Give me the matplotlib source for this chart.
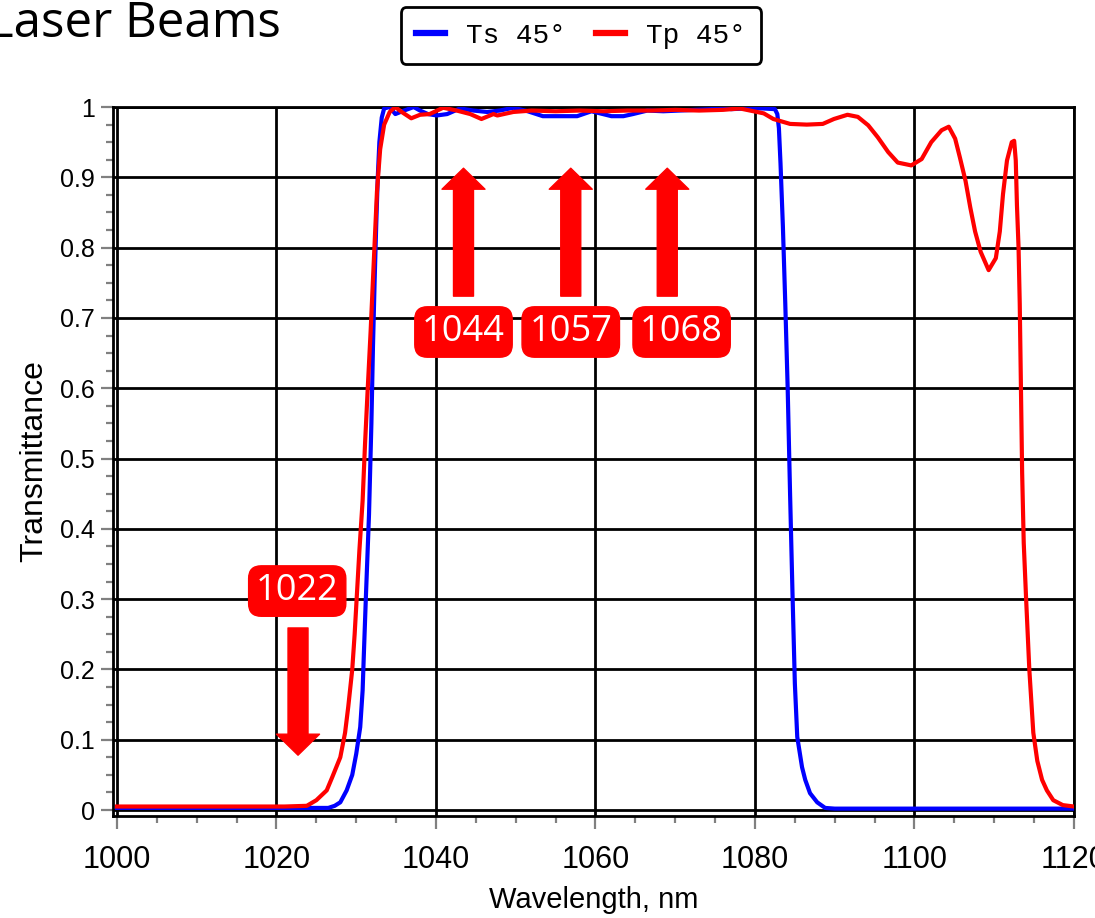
import matplotlib
matplotlib.use("Agg")
import matplotlib.pyplot as plt
from matplotlib.ticker import MultipleLocator

# Ts 45 deg (blue)
ts_wl = [1000, 1010, 1020, 1026.5, 1027.3, 1028.0, 1028.8, 1029.5, 1030.0, 1030.5,
         1030.8, 1030.95, 1031.2, 1031.6, 1031.9, 1032.1, 1032.3, 1032.5, 1032.7, 1032.9,
         1033.2, 1033.5, 1034.2, 1034.9, 1036.0, 1037.2, 1038.0, 1039.0, 1040.1, 1041.4,
         1043.0, 1044.7, 1046.4, 1048.0, 1049.7, 1051.5, 1053.4, 1055.5, 1057.7, 1059.5,
         1062.0, 1063.5, 1064.7, 1066.5, 1068.5, 1070.5, 1072.5, 1074.5, 1075.5, 1077.0,
         1079.0, 1081.0, 1082.5, 1082.8, 1083.0, 1083.2, 1083.5, 1083.8, 1084.1, 1084.4,
         1084.7, 1085.0, 1085.3, 1085.9, 1086.3, 1086.9, 1087.8, 1088.8, 1090, 1100,
         1110, 1120]
ts_t = [0.003, 0.003, 0.003, 0.003, 0.006, 0.011, 0.028, 0.05, 0.08, 0.118,
        0.17, 0.22, 0.30, 0.42, 0.55, 0.66, 0.75, 0.83, 0.90, 0.95,
        0.985, 0.998, 1.0, 0.99, 0.995, 1.0, 0.995, 0.99, 0.988, 0.99,
        0.998, 0.995, 0.993, 0.995, 0.999, 0.994, 0.987, 0.987, 0.987, 0.994,
        0.987, 0.987, 0.99, 0.995, 0.994, 0.995, 0.996, 0.997, 1.0, 0.997,
        0.998, 0.998, 0.997, 0.99, 0.97, 0.92, 0.83, 0.72, 0.60, 0.45,
        0.31, 0.18, 0.104, 0.061, 0.043, 0.024, 0.011, 0.003, 0.002, 0.002,
        0.002, 0.002]

# Tp 45 deg (red)
tp_wl = [1000, 1010, 1021, 1023.8, 1025.0, 1026.3, 1027.0, 1028.0, 1028.6, 1029.0,
         1029.5, 1029.8, 1030.1, 1030.4, 1030.8, 1031.1, 1031.4, 1031.8, 1032.2, 1032.6,
         1033.0, 1033.5, 1034.2, 1034.9, 1035.7, 1036.9, 1038.0, 1039.2, 1040.9, 1042.6,
         1044.3, 1045.7, 1047.2, 1047.7, 1049.7, 1052, 1055, 1058, 1061, 1064,
         1067, 1070, 1073, 1076, 1078.1, 1081.1, 1082.3, 1084.4, 1086.5, 1088.5,
         1089.9, 1091.6, 1092.9, 1094.2, 1095.4, 1096.7, 1097.9, 1099.6, 1100.9, 1102.1,
         1103.4, 1104.3, 1105.1, 1105.7, 1106.4, 1107.0, 1107.6, 1108.3, 1109.3, 1110.2,
         1110.7, 1111.1, 1111.6, 1112.2, 1112.5, 1112.7, 1112.85, 1113.05, 1113.2, 1113.35,
         1113.5, 1113.7, 1114.0, 1114.4, 1114.9, 1115.4, 1116.0, 1116.6, 1117.4, 1118.6,
         1120]
tp_t = [0.005, 0.005, 0.005, 0.006, 0.014, 0.028, 0.047, 0.075, 0.11, 0.147,
        0.2, 0.25, 0.31, 0.37, 0.44, 0.52, 0.59, 0.68, 0.78, 0.88,
        0.94, 0.975, 0.993, 1.0, 0.993, 0.984, 0.989, 0.99, 0.999, 0.995,
        0.99, 0.983, 0.99, 0.988, 0.993, 0.995, 0.994, 0.995, 0.994, 0.995,
        0.995, 0.996, 0.995, 0.996, 0.998, 0.991, 0.983, 0.976, 0.975, 0.976,
        0.983, 0.989, 0.986, 0.974, 0.957, 0.936, 0.921, 0.917, 0.926, 0.950,
        0.967, 0.972, 0.955, 0.928, 0.895, 0.857, 0.823, 0.794, 0.768, 0.785,
        0.823, 0.876, 0.924, 0.950, 0.952, 0.924, 0.86, 0.80, 0.72, 0.60,
        0.48, 0.38, 0.30, 0.20, 0.11, 0.07, 0.043, 0.028, 0.014, 0.007,
        0.005]

x_ticks = [1000, 1020, 1040, 1060, 1080, 1100, 1120]
y_ticks = [0, 0.1, 0.2, 0.3, 0.4, 0.5, 0.6, 0.7, 0.8, 0.9, 1]
y_tick_labels = ["0", "0.1", "0.2", "0.3", "0.4", "0.5", "0.6", "0.7", "0.8", "0.9", "1"]

# laser line markers
marker_labels = ["1022", "1044", "1057", "1068"]
arrow_x = [1022.7, 1043.45, 1056.9, 1069.0]
arrow_tail = [0.259, 0.731, 0.731, 0.731]
arrow_tip = [0.078, 0.913, 0.913, 0.913]
label_x = [1022.6, 1043.45, 1056.9, 1070.8]
label_y = [0.3115, 0.680, 0.680, 0.680]

assert len(ts_wl) == len(ts_t) and len(tp_wl) == len(tp_t)

fig = plt.figure(figsize=(10.95, 9.18), dpi=100)
ax = fig.add_axes([0.1032, 0.1111, 0.8776, 0.7723])

ax.plot(ts_wl, ts_t, color="#0000ff", lw=3, label="Ts 45°", zorder=3)
ax.plot(tp_wl, tp_t, color="#ff0000", lw=3, label="Tp 45°", zorder=4)

ax.set_xlim(999.5, 1120)
ax.set_ylim(-0.0085, 1.0)

ax.set_xticks(x_ticks)
ax.set_xticklabels([str(v) for v in x_ticks], family="Liberation Sans", fontsize=22)
ax.set_yticks(y_ticks)
ax.set_yticklabels(y_tick_labels, family="Liberation Sans", fontsize=18)
ax.xaxis.set_minor_locator(MultipleLocator(5))
ax.yaxis.set_minor_locator(MultipleLocator(0.025))
ax.tick_params(which="major", direction="out", length=9, width=1.6, color="#808080", pad=4)
ax.tick_params(which="minor", direction="out", length=5, width=1.6, color="#808080")
ax.tick_params(axis="x", which="major", pad=12)

ax.grid(True, which="major", color="black", lw=2)
for s in ax.spines.values():
    s.set_color("black")
    s.set_linewidth(2)

ax.set_xlabel("Wavelength, nm", family="Liberation Sans", fontsize=21, labelpad=8)
ax.set_ylabel("Transmittance", family="Liberation Sans", fontsize=23, labelpad=8)

for x, y0, y1 in zip(arrow_x, arrow_tail, arrow_tip):
    ax.annotate("", xy=(x, y1), xytext=(x, y0),
                arrowprops=dict(arrowstyle="simple,head_length=1.05,head_width=2.15,tail_width=1.0",
                                mutation_scale=14.4, color="#ff0000", shrinkA=0, shrinkB=0),
                zorder=6)

for lab, x, y in zip(marker_labels, label_x, label_y):
    ax.text(x, y, lab, family="Open Sans", fontsize=26, color="white",
            ha="center", va="center", zorder=7,
            bbox=dict(boxstyle="round,pad=0.2,rounding_size=0.35", fc="#ff0000", ec="#ff0000"))

leg = fig.legend(loc="center", bbox_to_anchor=(0.5306, 0.9613), ncol=2,
                 prop={"family": "Liberation Mono", "size": 20},
                 handlelength=1.05, handletextpad=0.75, columnspacing=1.1,
                 borderpad=0.55, fancybox=True, edgecolor="black", framealpha=1)
leg.get_frame().set_linewidth(2)
for h in leg.get_lines():
    h.set_linewidth(4.5)

fig.text(-12 / 1095, 1 - 37 / 918, "Laser Beams", family="Open Sans", fontsize=35.5,
         ha="left", va="baseline")

fig.savefig("out.png", dpi=100)
